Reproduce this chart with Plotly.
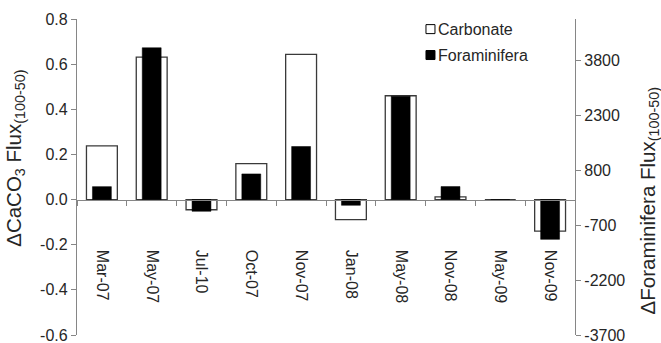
import plotly.graph_objects as go

# Sampling periods (category axis)
periods = ["Mar-07", "May-07", "Jul-10", "Oct-07", "Nov-07",
           "Jan-08", "May-08", "Nov-08", "May-09", "Nov-09"]

# Difference in flux between 100 m and 50 m traps
carbonate = [0.238, 0.631, -0.045, 0.159, 0.643, -0.089, 0.460, 0.012, 0.0, -0.140]
foraminifera = [353, 4148, -320, 700, 1450, -156, 2826, 356, 0, -1086]

# Axis ticks
left_ticks = [-0.6, -0.4, -0.2, 0.0, 0.2, 0.4, 0.6, 0.8]
left_labels = ["-0.6", "-0.4", "-0.2", "0.0", "0.2", "0.4", "0.6", "0.8"]
right_ticks = [-3700, -2200, -700, 800, 2300, 3800]
right_labels = ["-3700", "-2200", "-700", "800", "2300", "3800"]

left_range = [-0.6, 0.8]
# right range chosen so both zero lines coincide
zero_frac = -left_range[0] / (left_range[1] - left_range[0])
right_min = -3700
right_range = [right_min, right_min - right_min / zero_frac]

FONT = "Liberation Sans, Arial, sans-serif"
AXIS_GRAY = "#868686"
TEXT = "#262626"

fig = go.Figure()
fig.add_trace(go.Bar(
    x=periods, y=carbonate, name="Carbonate", width=0.62,
    marker=dict(color="white", line=dict(color="#3a3a3a", width=1.3)),
    yaxis="y",
))
fig.add_trace(go.Bar(
    x=periods, y=foraminifera, name="Foraminifera", width=0.38,
    marker=dict(color="black", line=dict(color="black", width=0.5)),
    yaxis="y2",
))

axis_common = dict(
    showline=True, linecolor=AXIS_GRAY, linewidth=1.2,
    ticks="outside", ticklen=5, tickcolor=AXIS_GRAY, tickwidth=1.2,
    showgrid=False, zeroline=False, ticklabeloverflow="allow",
    tickfont=dict(family=FONT, size=16, color=TEXT),
)

fig.update_layout(
    width=661, height=343,
    margin=dict(l=77, r=86, t=19, b=8, autoexpand=False),
    paper_bgcolor="white", plot_bgcolor="white",
    barmode="overlay", showlegend=False,
    xaxis=dict(
        type="category", anchor="free", position=zero_frac,
        tickson="boundaries", tickangle=90, ticklabelstandoff=46,
        **axis_common,
    ),
    yaxis=dict(
        range=left_range, tickvals=left_ticks, ticktext=left_labels,
        **axis_common,
    ),
    yaxis2=dict(
        range=right_range, overlaying="y", side="right",
        tickvals=right_ticks, ticktext=right_labels,
        **axis_common,
    ),
)

# Axis titles
fig.add_annotation(
    text="ΔCaCO<sub>3</sub> Flux<sub>(100-50)</sub>",
    xref="paper", yref="paper", x=-0.125, y=0.56,
    xanchor="center", yanchor="middle", textangle=-90, showarrow=False,
    font=dict(family=FONT, size=20.5, color=TEXT),
)
fig.add_annotation(
    text="ΔForaminifera Flux<sub>(100-50)</sub>",
    xref="paper", yref="paper", x=1.148, y=0.425,
    xanchor="center", yanchor="middle", textangle=-90, showarrow=False,
    font=dict(family=FONT, size=20.5, color=TEXT),
)

# Legend
legend_items = [("Carbonate", "white"), ("Foraminifera", "black")]
legend_y = [0.968, 0.886]
for (label, fill), ly in zip(legend_items, legend_y):
    fig.add_shape(
        type="rect", xref="paper", yref="paper",
        xsizemode="pixel", ysizemode="pixel",
        xanchor=0.7098, yanchor=ly, x0=-4.5, x1=4.5, y0=-4.5, y1=4.5,
        fillcolor=fill, line=dict(color="black", width=1),
    )
    fig.add_annotation(
        text=label, xref="paper", yref="paper", x=0.721, y=ly,
        xanchor="left", yanchor="middle", showarrow=False,
        font=dict(family=FONT, size=16, color=TEXT),
    )

fig.write_html("out.html")
